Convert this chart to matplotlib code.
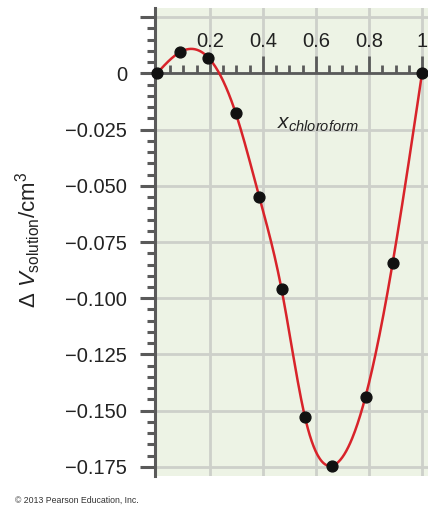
import numpy as np
import matplotlib
matplotlib.use("Agg")
import matplotlib.pyplot as plt
from matplotlib.ticker import MultipleLocator, FixedLocator

# measured points (mole fraction chloroform, volume change in cm3)
x_chloroform = [0.0, 0.088, 0.194, 0.297, 0.386, 0.470, 0.558, 0.659, 0.787, 0.889, 1.0]
dv_solution = [0.0, 0.0095, 0.0070, -0.0176, -0.0549, -0.0959, -0.1526, -0.1745, -0.1437, -0.0845, 0.0]

x_tick_vals = [0.2, 0.4, 0.6, 0.8, 1.0]
x_tick_labels = ["0.2", "0.4", "0.6", "0.8", "1"]
y_tick_vals = [0.025, 0.0, -0.025, -0.050, -0.075, -0.100, -0.125, -0.150, -0.175]
y_tick_labels = ["", "0", "\u22120.025", "\u22120.050", "\u22120.075", "\u22120.100",
                 "\u22120.125", "\u22120.150", "\u22120.175"]


def smooth_curve(xs, ys, n=400):
    # natural cubic spline through the measured points
    xs = np.asarray(xs, dtype=float)
    ys = np.asarray(ys, dtype=float)
    m = len(xs)
    h = np.diff(xs)
    A = np.zeros((m, m))
    b = np.zeros(m)
    A[0, 0] = A[-1, -1] = 1.0
    for i in range(1, m - 1):
        A[i, i - 1] = h[i - 1]
        A[i, i] = 2 * (h[i - 1] + h[i])
        A[i, i + 1] = h[i]
        b[i] = 6 * ((ys[i + 1] - ys[i]) / h[i] - (ys[i] - ys[i - 1]) / h[i - 1])
    M = np.linalg.solve(A, b)

    xq = np.linspace(xs[0], xs[-1], n)
    idx = np.clip(np.searchsorted(xs, xq) - 1, 0, m - 2)
    x0, x1 = xs[idx], xs[idx + 1]
    hi = x1 - x0
    t0, t1 = x1 - xq, xq - x0
    yq = (M[idx] * t0 ** 3 + M[idx + 1] * t1 ** 3) / (6 * hi) \
        + (ys[idx] / hi - M[idx] * hi / 6) * t0 \
        + (ys[idx + 1] / hi - M[idx + 1] * hi / 6) * t1
    return xq, yq


def main() -> None:
    plt.rcParams["font.family"] = ["Liberation Sans", "DejaVu Sans"]
    plt.rcParams["mathtext.fontset"] = "custom"
    plt.rcParams["mathtext.rm"] = "Liberation Sans"
    plt.rcParams["mathtext.it"] = "Liberation Sans:italic"

    fig = plt.figure(figsize=(4.28, 5.09), dpi=100)
    ax = fig.add_axes([0.362, 0.065, 0.638, 0.919])
    ax.set_facecolor("#EDF3E5")

    cx, cy = smooth_curve(x_chloroform, dv_solution)
    ax.plot(cx, cy, color="#D8232A", lw=1.8, zorder=3)
    ax.plot(x_chloroform, dv_solution, "o", color="#111111", ms=7.8, zorder=4, clip_on=False)

    ax.set_xlim(-0.0075, 1.0226)
    ax.set_ylim(-0.179, 0.029)

    for v in x_tick_vals:
        ax.axvline(v, color="#CDD0CA", lw=2.0, zorder=0)
    for v in y_tick_vals:
        ax.axhline(v, color="#CDD0CA", lw=2.0, zorder=0)

    spine_col = "#5A5A5A"
    ax.spines["right"].set_visible(False)
    ax.spines["bottom"].set_visible(False)
    ax.spines["top"].set_position(("data", 0))
    ax.spines["top"].set_color(spine_col)
    ax.spines["top"].set_linewidth(2.0)
    ax.spines["left"].set_color(spine_col)
    ax.spines["left"].set_linewidth(2.2)

    ax.xaxis.set_ticks_position("top")
    ax.set_xticks(x_tick_vals)
    ax.set_xticklabels(x_tick_labels)
    ax.xaxis.set_minor_locator(FixedLocator(np.arange(0.05, 1.0, 0.05)))
    ax.tick_params(axis="x", which="major", direction="out", length=12, width=2.0,
                   color=spine_col, labelsize=14.5, pad=4, labelcolor="#222222")
    ax.tick_params(axis="x", which="minor", direction="out", length=6, width=2.0,
                   color=spine_col)

    ax.set_yticks(y_tick_vals)
    ax.set_yticklabels(y_tick_labels)
    ax.yaxis.set_minor_locator(MultipleLocator(0.005))
    ax.tick_params(axis="y", which="major", direction="out", length=11, width=2.2,
                   color=spine_col, labelsize=14.5, pad=9, labelcolor="#222222")
    ax.tick_params(axis="y", which="minor", direction="out", length=6, width=2.2,
                   color=spine_col)

    ax.set_ylabel(r"$\Delta\ V_{\rm solution}$/cm$^3$", fontsize=16, color="#222222")
    ax.yaxis.set_label_coords(-0.41, 0.505)

    ax.text(0.453, -0.0244, r"$x_{chloroform}$", fontsize=15, color="#222222",
            ha="left", va="baseline")

    fig.text(0.035, 0.017, "\u00a9 2013 Pearson Education, Inc.", fontsize=6.3,
             color="#333333", ha="left", va="center")

    fig.savefig("out.png", dpi=100)
    plt.close(fig)


if __name__ == "__main__":
    main()
